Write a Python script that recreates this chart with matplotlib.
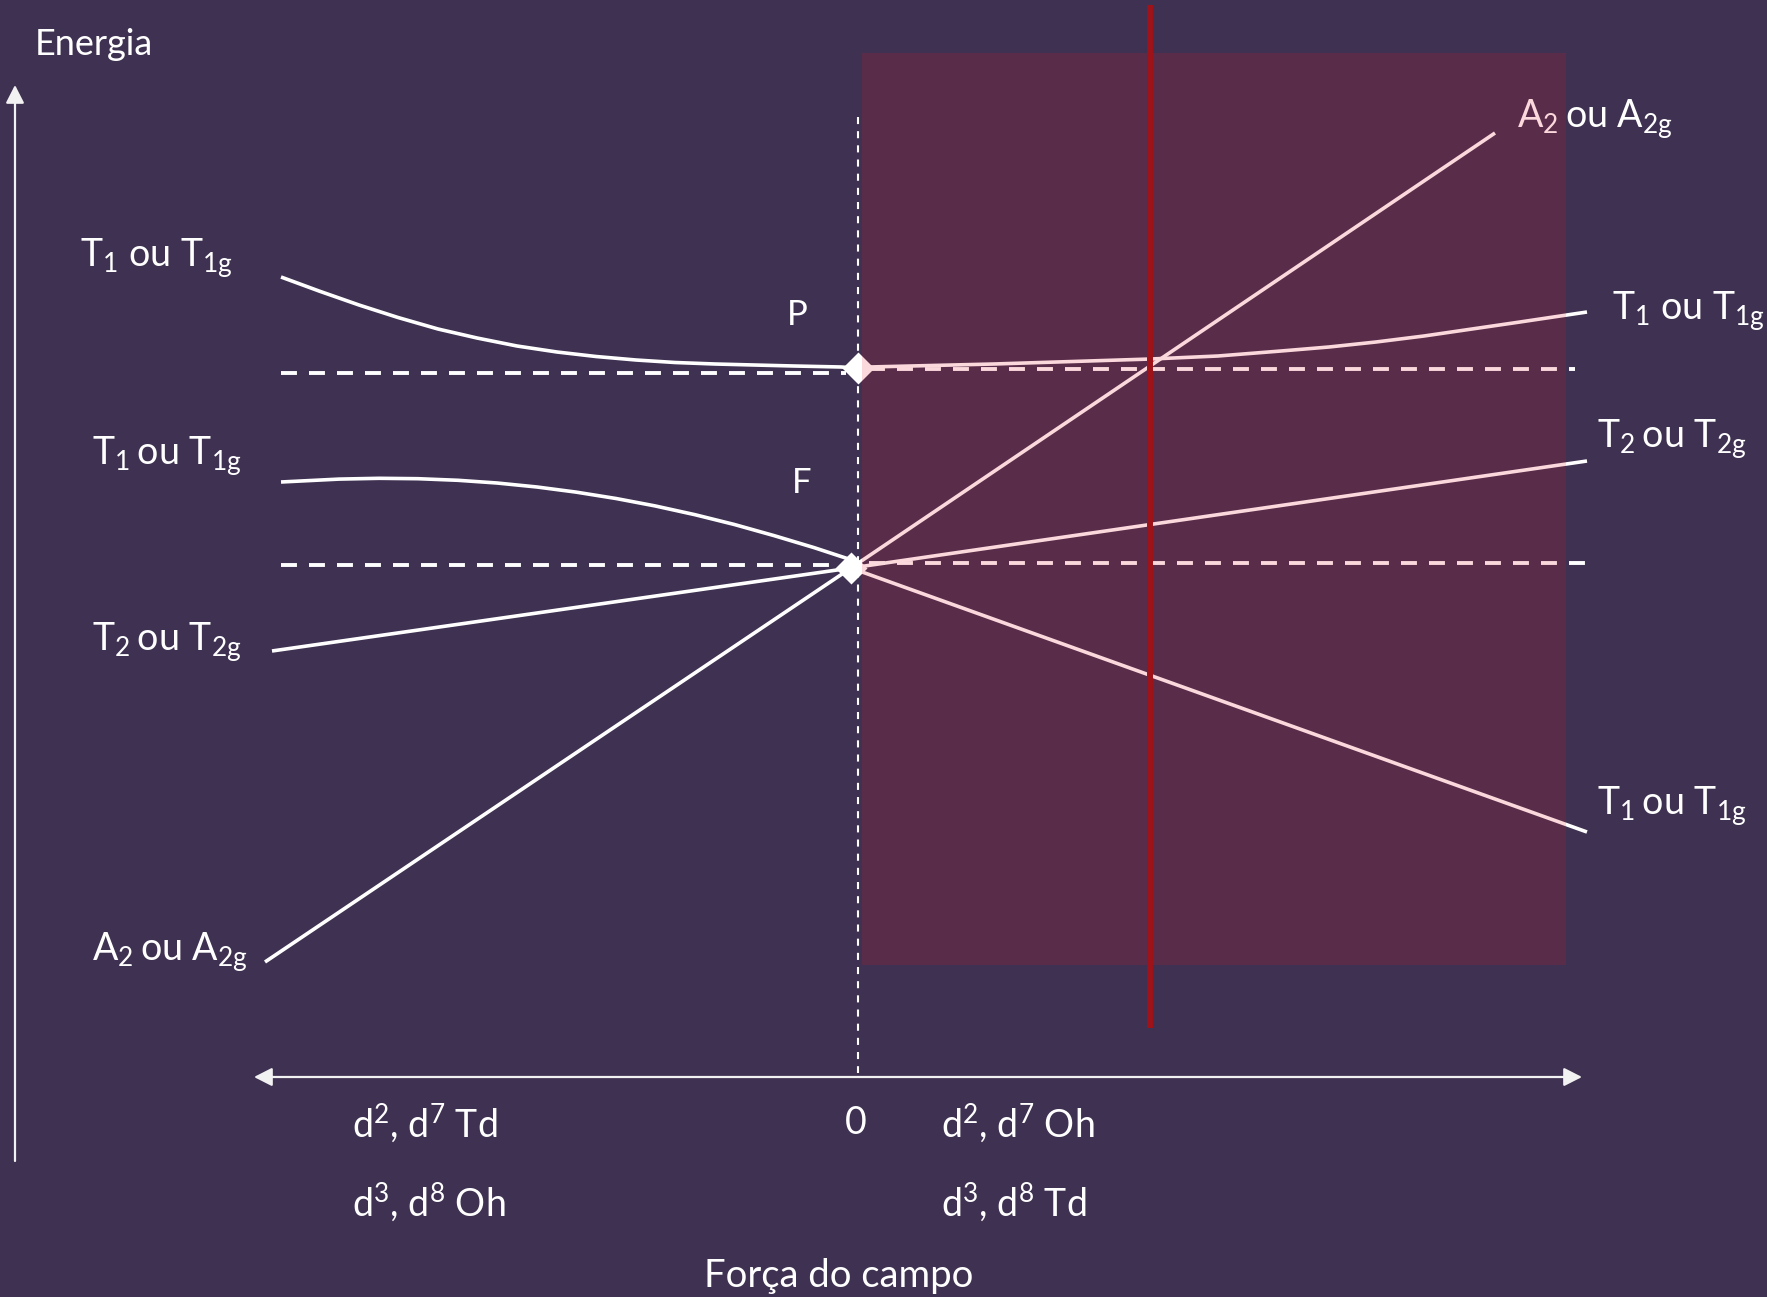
import matplotlib
matplotlib.use("Agg")
import matplotlib.pyplot as plt
from matplotlib.patches import Rectangle

plt.rcParams['font.family'] = ['Lato', 'DejaVu Sans']
plt.rcParams['mathtext.fontset'] = 'custom'
plt.rcParams['mathtext.rm'] = 'Lato'

# ---- data: ligand-field strength (arbitrary units, 0 = free ion) and term energies ----
P_FIELD, P_ENERGY = 0.0, 1.98          # free-ion P term
F_FIELD, F_ENERGY = -0.07, -0.02       # free-ion F term

# T1(P) branch, left side (d2,d7 Td / d3,d8 Oh)
t1p_left_field = [-5.77, -5.39, -4.99, -4.60, -4.20, -3.81, -3.41, -3.01,
                  -2.62, -2.22, -1.83, -1.43, -1.04, -0.64, -0.17]
t1p_left_energy = [2.89, 2.75, 2.61, 2.485, 2.37, 2.28, 2.20, 2.14,
                   2.095, 2.06, 2.035, 2.02, 2.01, 2.00, 1.99]

# T1(P) branch, right side (d2,d7 Oh / d3,d8 Td)
t1p_right_field = [0.11, 1.36, 2.93, 3.60, 4.23, 4.71, 5.18, 5.66, 6.14, 6.62, 7.29]
t1p_right_energy = [1.99, 2.02, 2.07, 2.10, 2.15, 2.19, 2.24, 2.30, 2.37, 2.44, 2.54]

# T1(F) branch, left side
t1f_left_field = [-5.77, -5.19, -4.79, -4.40, -4.00, -3.61, -3.21, -2.82,
                  -2.42, -2.03, -1.63, -1.24, -0.84, -0.44, -0.09]
t1f_left_energy = [0.84, 0.869, 0.877, 0.873, 0.857, 0.830, 0.790, 0.739,
                   0.675, 0.601, 0.513, 0.416, 0.304, 0.184, 0.069]

# straight branches from F: (outer field, outer energy)
a2_left = (-5.93, -3.96)
t2_left = (-5.86, -0.85)
a2_right = (6.37, 4.33)
t2_right = (7.29, 1.05)
t1f_right = (7.29, -2.66)

# free-ion reference levels (dashed)
p_level_left, p_level_right = 1.93, 1.97
f_level_left, f_level_right = 0.01, 0.03

# highlighted field region and marked field value
region_field = (0.04, 7.08)
region_energy = (-3.99, 5.13)
marked_field = 2.92

BG = '#3F3151'
WHITE = '#FFFFFF'

fig = plt.figure(figsize=(17.67, 12.97), dpi=100)
fig.patch.set_facecolor(BG)
ax = fig.add_axes([0, 0, 1, 1])
ax.set_xlim(-8.58, 9.09)
ax.set_ylim(-7.31, 5.66)
ax.axis('off')

curve_kw = dict(color=WHITE, lw=2.6, solid_joinstyle='round', solid_capstyle='butt', zorder=2)

# curved T1 branches
ax.plot(t1p_left_field + [P_FIELD], t1p_left_energy + [P_ENERGY], **curve_kw)
ax.plot([P_FIELD] + t1p_right_field, [P_ENERGY] + t1p_right_energy, **curve_kw)
ax.plot(t1f_left_field, t1f_left_energy, **curve_kw)

# straight branches through F
for (fx, fe) in (a2_left, t2_left):
    ax.plot([fx, F_FIELD], [fe, F_ENERGY], **curve_kw)
for (fx, fe) in (a2_right, t2_right, t1f_right):
    ax.plot([F_FIELD, fx], [F_ENERGY, fe], **curve_kw)

# dashed free-ion levels
dash_kw = dict(color=WHITE, lw=2.8, dashes=(4.1, 3.1), zorder=2)
ax.plot([-5.77, -0.12], [p_level_left] * 2, **dash_kw)
ax.plot([0.11, 7.17], [p_level_right] * 2, **dash_kw)
ax.plot([-5.77, -0.18], [f_level_left] * 2, **dash_kw)
ax.plot([0.11, 7.29], [f_level_right] * 2, **dash_kw)

# zero-field dashed divider
ax.plot([0.0, 0.0], [4.49, -5.07], color=WHITE, lw=1.5, dashes=(3.4, 3.4), zorder=2)

# free-ion term markers
ax.plot([P_FIELD, F_FIELD], [P_ENERGY, F_ENERGY], ls='none', marker='D',
        ms=16, mfc=WHITE, mec='none', zorder=3)

# axes arrows
ax.annotate('', xy=(7.24, -5.11), xytext=(-6.04, -5.11),
            arrowprops=dict(arrowstyle='<|-|>,head_length=0.55,head_width=0.28',
                            lw=1.6, color='#F2F2F2', mutation_scale=20,
                            shrinkA=0, shrinkB=0), zorder=2)
ax.annotate('', xy=(-8.43, 4.81), xytext=(-8.43, -5.95),
            arrowprops=dict(arrowstyle='-|>,head_length=0.55,head_width=0.28',
                            lw=1.6, color='#F2F2F2', mutation_scale=20,
                            shrinkA=0, shrinkB=0), zorder=2)

# term labels
lab = dict(color=WHITE, fontsize=27, ha='left', va='baseline', zorder=4)
ax.text(-7.78, 2.99, r'T$_\mathregular{1}$ ou T$_\mathregular{1g}$', **lab)
ax.text(-7.66, 1.01, r'T$_\mathregular{1}\,$ou T$_\mathregular{1g}$', **lab)
ax.text(-7.66, -0.85, r'T$_\mathregular{2}\,$ou T$_\mathregular{2g}$', **lab)
ax.text(-7.66, -3.95, r'A$_\mathregular{2}\,$ou A$_\mathregular{2g}$', **lab)
ax.text(6.59, 4.38, r'A$_\mathregular{2}\,$ou A$_\mathregular{2g}$', **lab)
ax.text(7.54, 2.46, r'T$_\mathregular{1}$ ou T$_\mathregular{1g}$', **lab)
ax.text(7.39, 1.18, r'T$_\mathregular{2}\,$ou T$_\mathregular{2g}$', **lab)
ax.text(7.39, -2.49, r'T$_\mathregular{1}\,$ou T$_\mathregular{1g}$', **lab)

ax.text(-8.23, 5.11, 'Energia', color=WHITE, fontsize=26, ha='left', va='baseline')
ax.text(-0.61, 2.51, 'P', color=WHITE, fontsize=25, ha='center', va='center')
ax.text(-0.56, 0.83, 'F', color=WHITE, fontsize=25, ha='center', va='center')

bot = dict(color=WHITE, fontsize=27, va='center', zorder=4)
ax.text(-5.06, -5.57, r'd$^\mathregular{2}$, d$^\mathregular{7}$ Td', ha='left', **bot)
ax.text(-0.02, -5.57, '0', ha='center', **bot)
ax.text(0.83, -5.57, r'd$^\mathregular{2}$, d$^\mathregular{7}$ Oh', ha='left', **bot)
ax.text(-5.06, -6.36, r'd$^\mathregular{3}$, d$^\mathregular{8}$ Oh', ha='left', **bot)
ax.text(0.83, -6.36, r'd$^\mathregular{3}$, d$^\mathregular{8}$ Td', ha='left', **bot)
ax.text(-0.19, -7.10, 'Força do campo', ha='center', color=WHITE, fontsize=27.5,
        va='center', zorder=4)

# highlighted strong-field region
ax.add_patch(Rectangle((region_field[0], region_energy[0]),
                       region_field[1] - region_field[0],
                       region_energy[1] - region_energy[0],
                       facecolor='#E31327', alpha=0.165, edgecolor='none', zorder=5))

# marked field strength
ax.plot([marked_field, marked_field], [5.61, -4.62], color='#9E1219', lw=4.3,
        solid_capstyle='butt', zorder=6)

fig.savefig('out.png', dpi=100, facecolor=fig.get_facecolor())
